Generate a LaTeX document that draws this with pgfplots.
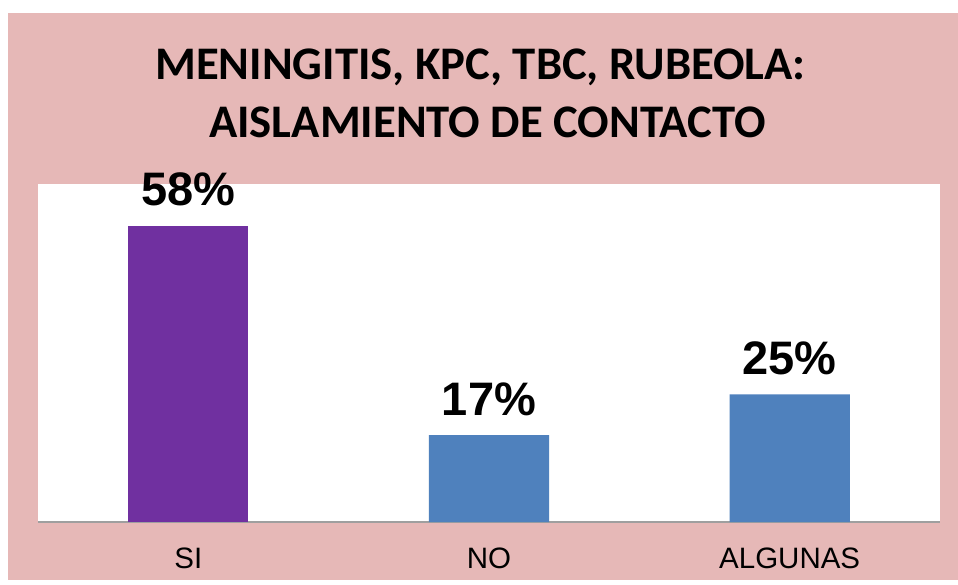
\documentclass[border=0pt]{standalone}
\usepackage{fontspec}
\setmainfont{Liberation Sans}
\newfontfamily\titlefont{Carlito}
\usepackage{pgfplots}
\pgfplotsset{compat=1.18}
\definecolor{bgpink}{HTML}{E6B8B7}
\definecolor{barpurple}{HTML}{7030A0}
\definecolor{barblue}{HTML}{4F81BD}
\begin{document}
\begin{tikzpicture}[x=1pt,y=1pt]
\path[fill=white] (0,0) rectangle (958,584);
\fill[bgpink] (8,4) rectangle (958,571);
\node[anchor=base, inner sep=0pt, font=\titlefont\bfseries\fontsize{46.7}{50}\selectfont] at (480.5,504) {MENINGITIS, KPC, TBC, RUBEOLA:};
\node[anchor=base, inner sep=0pt, font=\titlefont\bfseries\fontsize{46.7}{50}\selectfont] at (487.5,446) {AISLAMIENTO DE CONTACTO};
\begin{axis}[at={(38pt,62pt)}, anchor=south west, scale only axis,
  width=902pt, height=338pt,
  xmin=-0.5, xmax=2.5, ymin=0, ymax=66.2,
  axis background/.style={fill=white},
  axis x line=bottom, axis y line=none,
  axis line style={-, draw=gray!75, line width=1.2pt},
  xtick={0,1,2}, xticklabels={SI,NO,ALGUNAS},
  major tick length=0pt,
  xticklabel style={anchor=base, yshift=-46pt, inner sep=0pt, font=\fontsize{29.5}{32}\selectfont},
  ybar, bar width=0.4, bar shift=0pt,
  nodes near coords={\pgfmathprintnumber[assume math mode=true]{\pgfplotspointmeta}\%},
  nodes near coords style={anchor=base, yshift=20pt, inner sep=0pt, font=\bfseries\fontsize{47}{50}\selectfont},
  clip=false]
\addplot[fill=barpurple, draw=none] coordinates {(0,58)};
\addplot[fill=barblue, draw=none] coordinates {(1,17) (2,25)};
\end{axis}
\end{tikzpicture}
\end{document}
